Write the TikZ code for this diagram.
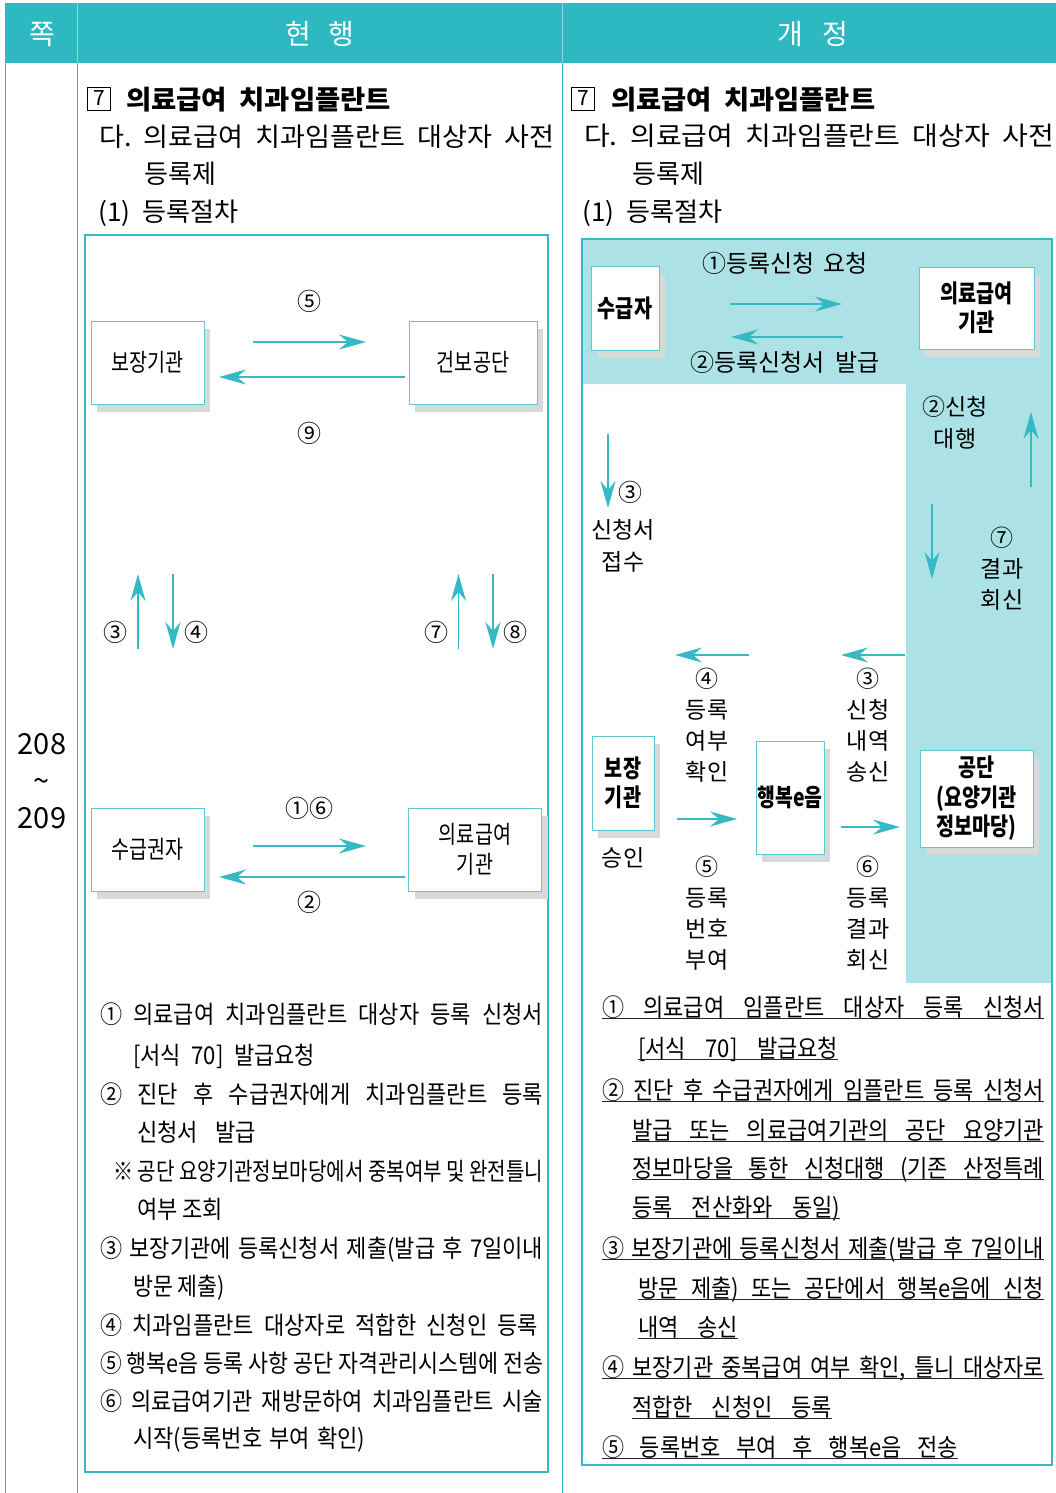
\documentclass[tikz,border=0pt]{standalone}
\usepackage{fontspec}
\usepackage{graphicx}
\setmainfont{Noto Sans CJK KR}
\newfontfamily\condf{Noto Sans CJK KR}[FakeStretch=0.8]
\newfontfamily\listf{Noto Sans CJK KR}[FakeStretch=0.9]
\usetikzlibrary{arrows.meta,shadows}
\definecolor{tealh}{HTML}{2EB8C2}
\definecolor{tealb}{HTML}{33BAC4}
\definecolor{tealn}{HTML}{5EC9D0}
\definecolor{lightt}{HTML}{ACE2E6}
\definecolor{shadowc}{HTML}{D6DAD8}
\definecolor{arrc}{HTML}{35BAC4}
\definecolor{sepc}{HTML}{8ED5DA}
\newlength\jlen
\newcommand\jl[2]{\settowidth\jlen{#2}\ifdim\jlen>#1pt\relax\resizebox{#1pt}{\height}{#2}\else\makebox[#1pt][s]{#2}\fi}
\newcommand\jr[2]{\resizebox{#1pt}{\height}{#2}}
\newcommand\fH{\fontsize{26}{31}\selectfont}
\newcommand\fT{\bfseries\fontsize{26.5}{31}\selectfont}
\newcommand\fL{\listf\fontsize{24.5}{30}\selectfont}
\newcommand\fD{\fontsize{23}{31}\selectfont}
\newcommand\fN{\condf\fontsize{24.5}{30}\selectfont}
\newcommand\fB{\condf\bfseries\fontsize{24.5}{29.5}\selectfont}
\tikzset{
 t/.style={inner sep=0pt, text height=19.6pt, text depth=1.5pt},
 lt/.style={t, anchor=west},
 hdr/.style={text=white, font=\fontsize{28}{30}\selectfont, inner sep=0pt},
 nbox/.style={draw=tealn, line width=1pt, fill=white, inner sep=0pt, align=center,
   general shadow={fill=shadowc, shadow xshift=6pt, shadow yshift=-8pt}},
 arr/.style={draw=arrc, line width=1.3pt, -{Stealth[length=27pt,width=15pt,inset=9pt]}},
 lab/.style={font=\fD, inner sep=0pt, align=center},
 num/.style={font=\fontsize{24}{24}\selectfont, inner sep=0pt},
 ul/.style={line width=1.1pt, draw=black!85},
 frame/.style={draw=tealb, line width=2.6pt},
 box7/.style={draw, line width=0.9pt, minimum size=23pt, inner sep=0pt, font=\fontsize{21}{21}\selectfont},
}
\begin{document}
\begin{tikzpicture}[x=1pt,y=-1pt]
\useasboundingbox (0,0) rectangle (1056,1493);
% header
\fill[tealh] (5,3) rectangle (1056,63);
\draw[sepc, line width=1] (77,3) -- (77,63) (562.5,3) -- (562.5,63);
\node[hdr] (hq) at (42,34) {쪽};
\node[hdr] (hc) at (320,34) {현\hspace{17pt}행};
\node[hdr] (hn) at (813,34) {개\hspace{19pt}정};
% body lines
\draw[tealb, line width=1.8] (5.5,63) -- (5.5,1493);
\draw[tealb, line width=1] (77,63) -- (77,1493);
\draw[tealb, line width=1] (562.5,63) -- (562.5,1493);
\node[font=\fontsize{29}{37}\selectfont, align=center, inner sep=0pt] (pg) at (42,781) {208\\\textasciitilde\\209};
% left headings
\node[box7] (bx7l) at (99,98.5) {7};
\node[lt, font=\fT] (til) at (126,100) {\jr{265}{의료급여\ \ 치과임플란트}};
\node[lt, font=\fH] (dal) at (99,137) {\jr{455}{다.\ \ 의료급여\ \ 치과임플란트\ \ 대상자\ \ 사전}};
\node[lt, font=\fH] (drl) at (144,174) {등록제};
\node[lt, font=\fH] (pl) at (98,212) {\jr{140}{(1)\ \ 등록절차}};
% right headings
\node[box7] (bx7r) at (583,98.5) {7};
\node[lt, font=\fT] (tir) at (611,100) {\jr{264}{의료급여\ \ 치과임플란트}};
\node[lt, font=\fH] (dar) at (584,136) {\jr{470}{다.\ \ 의료급여\ \ 치과임플란트\ \ 대상자\ \ 사전}};
\node[lt, font=\fH] (drr) at (632,174) {등록제};
\node[lt, font=\fH] (pr) at (582,212) {\jr{140}{(1)\ \ 등록절차}};
% ---------- left diagram ----------
\draw[frame] (85,235) rectangle (548,1472);
\node[nbox, minimum width=113, minimum height=83, font=\fN] (bj) at (147.5,362.5) {보장기관};
\node[nbox, minimum width=128, minimum height=83, font=\fN] (gb) at (473,362.5) {건보공단};
\node[nbox, minimum width=113, minimum height=83, font=\fN] (sg) at (147.5,849.5) {수급권자};
\node[nbox, minimum width=133, minimum height=83, font=\fN] (ui) at (475,849.5) {의료급여\\기관};
\coordinate (a1) at (253,342); \coordinate (a2) at (366,342);
\coordinate (a3) at (405,377); \coordinate (a4) at (219,377);
\coordinate (a5) at (138,649); \coordinate (a6) at (138,574);
\coordinate (a7) at (173,574); \coordinate (a8) at (173,649);
\coordinate (a9) at (458.5,649); \coordinate (a10) at (458.5,574);
\coordinate (a11) at (493,574); \coordinate (a12) at (493,649);
\coordinate (a13) at (253,846); \coordinate (a14) at (366,846);
\coordinate (a15) at (405,877); \coordinate (a16) at (219,877);
\draw[arr] (a1) -- (a2);
\draw[arr] (a3) -- (a4);
\draw[arr] (a5) -- (a6);
\draw[arr] (a7) -- (a8);
\draw[arr] (a9) -- (a10);
\draw[arr] (a11) -- (a12);
\draw[arr] (a13) -- (a14);
\draw[arr] (a15) -- (a16);
\node[num] (n5) at (309,301) {⑤};
\node[num] (n9) at (309,433) {⑨};
\node[num] (n3) at (115,632) {③};
\node[num] (n4) at (196,632) {④};
\node[num] (n7) at (436,632) {⑦};
\node[num] (n8) at (515,632) {⑧};
\node[num] (n16) at (309,808) {①⑥};
\node[num] (n2) at (309,902) {②};
% left list
\node[lt,font=\fL] (l1) at (100,1014) {\jl{443}{① 의료급여 치과임플란트 대상자 등록 신청서}};
\node[lt,font=\fL] (l2) at (133,1055) {\jl{182}{[서식 70] 발급요청}};
\node[lt,font=\fL] (l3) at (100,1094) {\jl{443}{② 진단 후 수급권자에게 치과임플란트 등록}};
\node[lt,font=\fL] (l4) at (137,1132) {\jl{119}{신청서 발급}};
\node[lt,font=\fL] (l5) at (113,1171) {\jl{430}{※ 공단 요양기관정보마당에서 중복여부 및 완전틀니}};
\node[lt,font=\fL] (l6) at (137,1209) {\jl{86}{여부 조회}};
\node[lt,font=\fL] (l7) at (100,1248) {\jl{443}{③ 보장기관에 등록신청서 제출(발급 후 7일이내}};
\node[lt,font=\fL] (l8) at (133,1286) {\jl{92}{방문 제출)}};
\node[lt,font=\fL] (l9) at (100,1325) {\jl{438}{④ 치과임플란트 대상자로 적합한 신청인 등록}};
\node[lt,font=\fL] (l10) at (100,1363) {\jl{443}{⑤ 행복e음 등록 사항 공단 자격관리시스템에 전송}};
\node[lt,font=\fL] (l11) at (100,1401) {\jl{443}{⑥ 의료급여기관 재방문하여 치과임플란트 시술}};
\node[lt,font=\fL] (l12) at (133,1438) {\jl{232}{시작(등록번호 부여 확인)}};
% ---------- right diagram ----------
\fill[lightt] (582,239) -- (1052,239) -- (1052,983) -- (906,983) -- (906,384) -- (582,384) -- cycle;
\draw[frame] (582,239) rectangle (1052,1465);
\node[nbox, minimum width=68, minimum height=84, font=\fB] (sgj) at (625,308) {수급자};
\node[nbox, minimum width=115, minimum height=82, font=\fB] (uig) at (976.5,308) {의료급여\\기관};
\node[nbox, minimum width=62, minimum height=94, font=\fB] (bjg) at (623,783) {보장\\기관};
\node[nbox, minimum width=68, minimum height=113, font=\fB] (hb) at (790,797.5) {\jl{65}{행복e음}};
\node[nbox, minimum width=113, minimum height=97, font=\fB] (gd) at (976.5,798.5) {공단\\(요양기관\\정보마당)};
\coordinate (b1) at (730,304); \coordinate (b2) at (842,304);
\coordinate (b3) at (843,337); \coordinate (b4) at (731,337);
\coordinate (b5) at (608,434); \coordinate (b6) at (608,508);
\coordinate (b7) at (1031,487); \coordinate (b8) at (1031,412);
\coordinate (b9) at (932,504); \coordinate (b10) at (932,579);
\coordinate (b11) at (749,655); \coordinate (b12) at (675,655);
\coordinate (b13) at (905,655); \coordinate (b14) at (841,655);
\coordinate (b15) at (677,819); \coordinate (b16) at (737,819);
\coordinate (b17) at (841,827); \coordinate (b18) at (900,827);
\draw[arr] (b1) -- (b2);
\draw[arr] (b3) -- (b4);
\draw[arr] (b5) -- (b6);
\draw[arr] (b7) -- (b8);
\draw[arr] (b9) -- (b10);
\draw[arr] (b11) -- (b12);
\draw[arr] (b13) -- (b14);
\draw[arr] (b15) -- (b16);
\draw[arr] (b17) -- (b18);
\node[lab, font=\fontsize{24}{31}\selectfont] (t1) at (785,263) {\jl{165}{①등록신청 요청}};
\node[lab, font=\fontsize{24}{31}\selectfont] (t2) at (785,362) {\jl{189}{②등록신청서 발급}};
\node[num] (t3n) at (630,492) {③};
\node[lab, font=\fontsize{23}{32}\selectfont] (t3) at (623,546) {신청서\\접수};
\node[lab, font=\fontsize{23}{32}\selectfont] (t4) at (955,423) {②신청\\대행};
\node[lab] (t7) at (1002,569) {⑦\\결과\\회신};
\node[lab] (t4b) at (707,725.5) {④\\등록\\여부\\확인};
\node[lab] (t3b) at (868,725.5) {③\\신청\\내역\\송신};
\node[lab] (t5b) at (707,913.5) {⑤\\등록\\번호\\부여};
\node[lab] (t6b) at (868,913.5) {⑥\\등록\\결과\\회신};
\node[lab] (sn) at (623,858) {승인};
% right list
\node[lt,font=\fL] (r1) at (602,1007) {\jl{442}{① 의료급여 임플란트 대상자 등록 신청서}};
\node[lt,font=\fL] (r2) at (638,1048) {\jl{200}{[서식 70] 발급요청}};
\node[lt,font=\fL] (r3) at (602,1090) {\jl{442}{② 진단 후 수급권자에게 임플란트 등록 신청서}};
\node[lt,font=\fL] (r4) at (632,1130) {\jl{412}{발급 또는 의료급여기관의 공단 요양기관}};
\node[lt,font=\fL] (r5) at (632,1168) {\jl{412}{정보마당을 통한 신청대행 (기존 산정특례}};
\node[lt,font=\fL] (r6) at (632,1207) {\jl{208}{등록 전산화와 동일)}};
\node[lt,font=\fL] (r7) at (602,1248) {\jl{442}{③ 보장기관에 등록신청서 제출(발급 후 7일이내}};
\node[lt,font=\fL] (r8) at (638,1288) {\jl{406}{방문 제출) 또는 공단에서 행복e음에 신청}};
\node[lt,font=\fL] (r9) at (638,1327) {\jl{100}{내역 송신}};
\node[lt,font=\fL] (r10) at (602,1367) {\jl{442}{④ 보장기관 중복급여 여부 확인, 틀니 대상자로}};
\node[lt,font=\fL] (r11) at (632,1407) {\jl{200}{적합한 신청인 등록}};
\node[lt,font=\fL] (r12) at (602,1447) {\jl{356}{⑤ 등록번호 부여 후 행복e음 전송}};
\foreach \i in {1,...,12} \draw[ul] ([yshift=-1pt]r\i.south west) -- ([yshift=-1pt]r\i.south east);
\end{tikzpicture}
\end{document}
